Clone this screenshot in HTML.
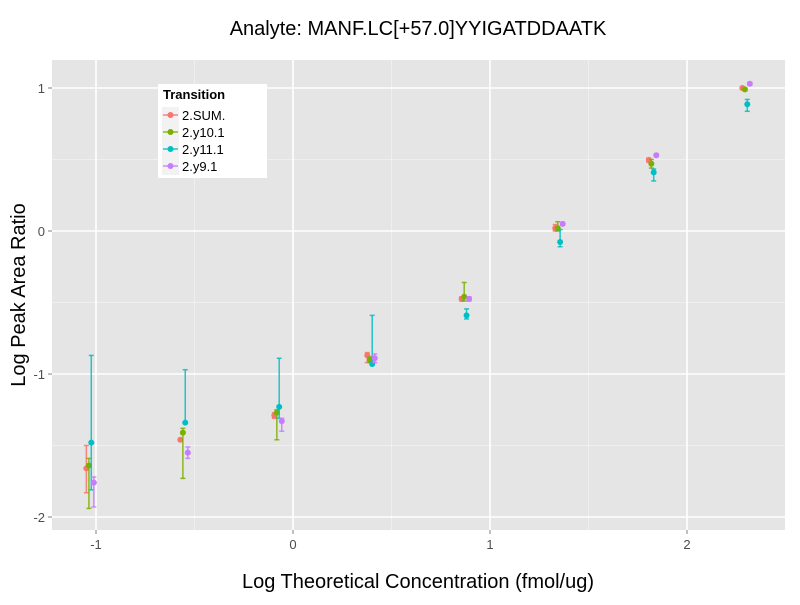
<!DOCTYPE html>
<html><head><meta charset="utf-8"><style>body{margin:0;background:#fff}svg{font-family:"Liberation Sans",sans-serif}</style></head>
<body>
<svg id="c" width="800" height="600"></svg>
<script>
const groupX=[-1.03,-0.553,-0.076,0.396,0.875,1.35,1.825,2.30];
const seriesNames=["2.SUM.","2.y10.1","2.y11.1","2.y9.1"];
const colors=["#F8766D","#7CAE00","#00BFC4","#C77CFF"];
const dodge=[-0.019,-0.006,0.006,0.019];
const sumY=[-1.66,-1.46,-1.29,-0.87,-0.475,0.02,0.497,1.0];
const sumLo=[-1.83,-1.46,-1.31,-0.92,-0.49,0.0,0.48,0.99];
const sumHi=[-1.50,-1.46,-1.27,-0.85,-0.46,0.045,0.51,1.01];
const y10Y=[-1.64,-1.41,-1.27,-0.90,-0.46,0.02,0.47,0.99];
const y10Lo=[-1.94,-1.73,-1.46,-0.92,-0.49,0.0,0.44,0.98];
const y10Hi=[-1.59,-1.38,-1.25,-0.88,-0.36,0.065,0.50,1.0];
const y11Y=[-1.48,-1.34,-1.23,-0.93,-0.59,-0.077,0.41,0.886];
const y11Lo=[-1.81,-1.34,-1.31,-0.94,-0.615,-0.11,0.35,0.837];
const y11Hi=[-0.87,-0.97,-0.89,-0.59,-0.545,0.01,0.434,0.92];
const y9Y=[-1.76,-1.55,-1.33,-0.89,-0.475,0.05,0.53,1.03];
const y9Lo=[-1.93,-1.59,-1.40,-0.92,-0.49,0.04,0.52,1.02];
const y9Hi=[-1.72,-1.51,-1.31,-0.86,-0.46,0.06,0.54,1.04];
const xTicks=[-1,0,1,2];
const yTicks=[-2,-1,0,1];
const L=52,R=785,T=60,B=530;
const X=v=>293+v*197, Y=v=>231-v*143;
const svg=document.getElementById('c');const NS="http://www.w3.org/2000/svg";
function el(t,a,p){const e=document.createElementNS(NS,t);for(const k in a)e.setAttribute(k,a[k]);(p||svg).appendChild(e);return e;}
const title=el('text',{x:418,y:35,'text-anchor':'middle','font-size':20,fill:'#000'});title.textContent="Analyte: MANF.LC[+57.0]YYIGATDDAATK";


const panel=el('rect',{x:L,y:T,width:R-L,height:B-T,fill:'#E5E5E5'});


for(let i=0;i<xTicks.length-1;i++){const m=(xTicks[i]+xTicks[i+1])/2;el('line',{x1:X(m),x2:X(m),y1:T,y2:B,stroke:'#F2F2F2','stroke-width':0.8});}
for(let i=0;i<yTicks.length-1;i++){const m=(yTicks[i]+yTicks[i+1])/2;el('line',{y1:Y(m),y2:Y(m),x1:L,x2:R,stroke:'#F2F2F2','stroke-width':0.8});}
xTicks.forEach(v=>{const g=el('line',{x1:X(v),x2:X(v),y1:T,y2:B,stroke:'#fff','stroke-width':1.6});
el('line',{x1:X(v),x2:X(v),y1:B,y2:B+4,stroke:'#7f7f7f'});
const t=el('text',{x:X(v),y:B+19,'text-anchor':'middle','font-size':13,fill:'#4D4D4D'});t.textContent=v;});
yTicks.forEach(v=>{const g=el('line',{y1:Y(v),y2:Y(v),x1:L,x2:R,stroke:'#fff','stroke-width':1.6});
el('line',{x1:L-4,x2:L,y1:Y(v),y2:Y(v),stroke:'#7f7f7f'});
const t=el('text',{x:L-7,y:Y(v)+5,'text-anchor':'end','font-size':13,fill:'#4D4D4D'});t.textContent=v;});
const series=[[sumY,sumLo,sumHi],[y10Y,y10Lo,y10Hi],[y11Y,y11Lo,y11Hi],[y9Y,y9Lo,y9Hi]];
series.forEach((s,si)=>{const g=el('g',{});
groupX.forEach((gx,i)=>{const x=X(gx+dodge[si]);const c=colors[si];
el('line',{x1:x,x2:x,y1:Y(s[1][i]),y2:Y(s[2][i]),stroke:c,'stroke-width':1.5,opacity:0.85},g);
el('line',{x1:x-2.5,x2:x+2.5,y1:Y(s[1][i]),y2:Y(s[1][i]),stroke:c,'stroke-width':1.5,opacity:0.85},g);
el('line',{x1:x-2.5,x2:x+2.5,y1:Y(s[2][i]),y2:Y(s[2][i]),stroke:c,'stroke-width':1.5,opacity:0.85},g);
const p=el('circle',{cx:x,cy:Y(s[0][i]),r:3,fill:c},g);});});
const xt=el('text',{x:418,y:588,'text-anchor':'middle','font-size':20});xt.textContent="Log Theoretical Concentration (fmol/ug)";
const yt=el('text',{x:0,y:0,'text-anchor':'middle','font-size':20,transform:'translate(25,295) rotate(-90)'});yt.textContent="Log Peak Area Ratio";
const lg=el('g',{});
el('rect',{x:158,y:84,width:109,height:94,fill:'#fff'},lg);
const lt=el('text',{x:163,y:99,'font-size':13,'font-weight':'bold'},lg);lt.textContent="Transition";
seriesNames.forEach((n,i)=>{const y=115+i*17;const e=el('g',{},lg);
el('rect',{x:162,y:y-8,width:17,height:17,fill:'#F2F2F2'},e);
el('line',{x1:163,x2:178,y1:y,y2:y,stroke:colors[i],'stroke-width':1.3},e);
el('circle',{cx:170.5,cy:y,r:3,fill:colors[i]},e);
const t=el('text',{x:182,y:y+5,'font-size':13},e);t.textContent=n;});
</script>
</body></html>
